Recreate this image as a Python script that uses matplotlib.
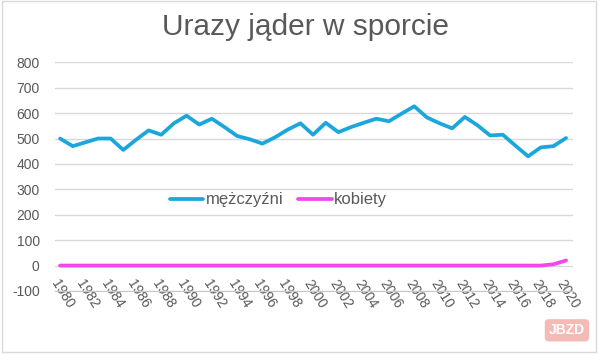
import numpy as np
import matplotlib.pyplot as plt
from matplotlib.patches import Rectangle

plt.rcParams['font.family'] = ['Liberation Sans', 'DejaVu Sans']

years = np.arange(1980, 2021)
mezczyzni = [500, 470, 485, 500, 500, 455, 495, 532, 515, 560,
             590, 555, 578, 545, 510, 497, 480, 505, 535, 560,
             515, 562, 525, 545, 562, 578, 568, 598, 627, 583,
             560, 540, 585, 552, 512, 515, 472, 430, 465, 470,
             502]
kobiety = [0] * 39 + [5, 20]

yticks = np.arange(-100, 801, 100)
xticks = np.arange(1980, 2021, 2)

grey = '#595959'

fig = plt.figure(figsize=(6, 3.61), dpi=100)
ax = fig.add_axes([0.0917, 0.194, 0.8633, 0.6334])

ax.plot(years, mezczyzni, color='#1ba6dc', lw=2.7, label='mężczyźni', solid_capstyle='round')
ax.plot(years, kobiety, color='#f048ee', lw=2.7, label='kobiety', solid_capstyle='round')

ax.set_xlim(1979.6, 2020.55)
ax.set_ylim(-100, 800)
ax.set_yticks(yticks)
ax.set_yticklabels([str(v) for v in yticks])
ax.set_xticks(xticks)
ax.set_xticklabels([str(v) for v in xticks], rotation=-58, ha='left', va='top',
                   rotation_mode='anchor')
ax.tick_params(axis='x', length=0, pad=-10, labelsize=10, colors=grey)
ax.tick_params(axis='y', length=0, pad=11, labelsize=10, colors=grey)

ax.grid(axis='y', color='#d9d9d9', lw=1)
ax.set_axisbelow(True)
for s in ['top', 'right', 'left']:
    ax.spines[s].set_visible(False)
ax.spines['bottom'].set_color('#c8c8c8')

fig.suptitle('Urazy jąder w sporcie', x=0.51, y=0.965, fontsize=21.5, color=grey)

leg = fig.legend(loc='center', bbox_to_anchor=(0.464, 0.446), ncol=2, frameon=False,
                 fontsize=12, handlelength=2.0, handletextpad=0.15, columnspacing=0.9)
for t in leg.get_texts():
    t.set_color(grey)

fig.patches.append(Rectangle((0.004, 0.025), 0.99, 0.972, transform=fig.transFigure,
                             fill=False, edgecolor='#d9d9d9', lw=1))

fig.text(0.945, 0.085, 'JBZD', fontsize=10, fontweight='bold', color='white',
         ha='center', va='center',
         bbox=dict(boxstyle='round,pad=0.3', fc='#f2a9a3', ec='none', alpha=0.8))

fig.savefig('out.png', dpi=100)
